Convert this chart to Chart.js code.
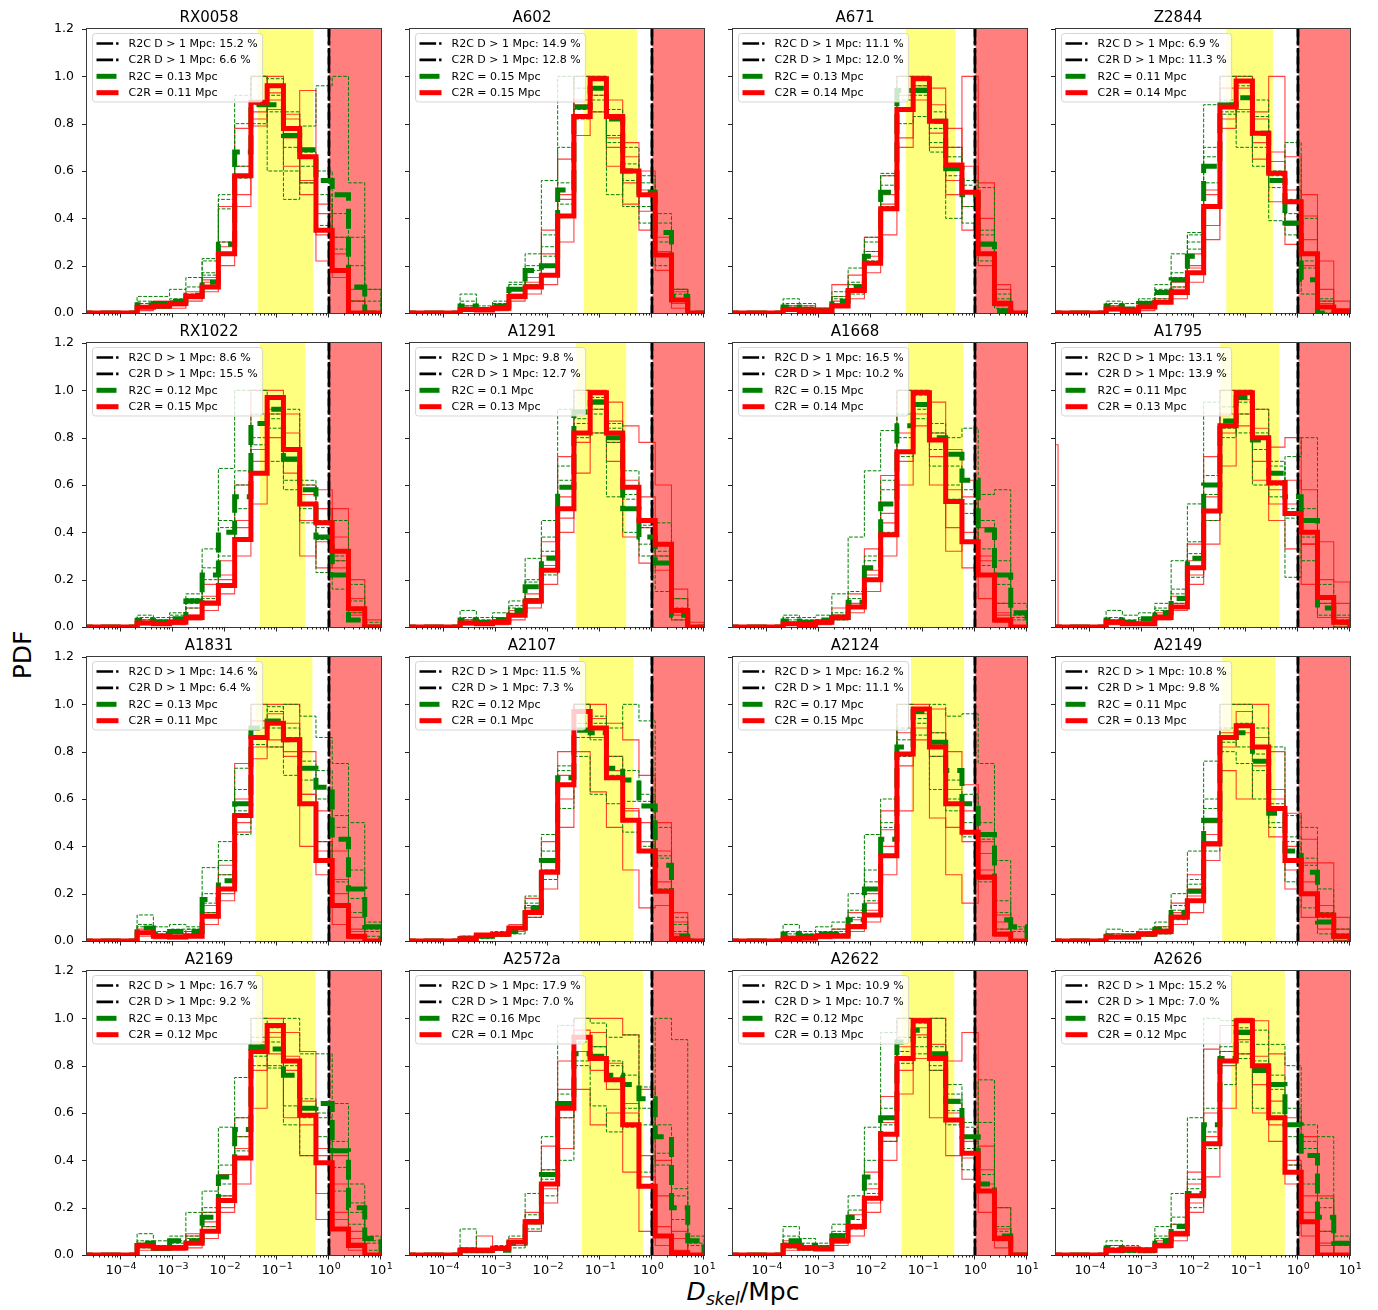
<!DOCTYPE html>
<html><head><meta charset="utf-8">
<script src="https://cdn.jsdelivr.net/npm/chart.js@4.4.1/dist/chart.umd.min.js"></script>
<style>
html,body{margin:0;padding:0;background:#fff;}
body{width:1378px;height:1310px;position:relative;overflow:hidden;font-family:"DejaVu Sans",sans-serif;}
canvas{position:absolute;}
#ylab{position:absolute;left:22px;top:655px;transform:translate(-50%,-50%) rotate(-90deg);font-size:25px;white-space:nowrap;}
#xlab{position:absolute;left:743px;top:1293px;transform:translate(-50%,-50%);font-size:25px;white-space:nowrap;}
#xlab sub{font-size:17px;font-style:italic;vertical-align:-5px;}
</style></head><body>
<div id="ylab">PDF</div>
<div id="xlab"><i>D</i><sub>skel</sub>/Mpc</div>
<script>
// ---------------- data ----------------
const PANEL_NAMES = ['RX0058','A602','A671','Z2844','RX1022','A1291','A1668','A1795','A1831','A2107','A2124','A2149','A2169','A2572a','A2622','A2626'];
const R2C_FAR = [15.2,14.9,11.1,6.9,8.6,9.8,16.5,13.1,14.6,11.5,16.2,10.8,16.7,17.9,10.9,15.2];
const C2R_FAR = [6.6,12.8,12.0,11.3,15.5,12.7,10.2,13.9,6.4,7.3,11.1,9.8,9.2,7.0,10.7,7.0];
const R2C_MED = ['0.13','0.15','0.13','0.11','0.12','0.1','0.15','0.11','0.13','0.12','0.17','0.11','0.13','0.16','0.12','0.15'];
const C2R_MED = ['0.11','0.15','0.14','0.14','0.15','0.13','0.14','0.13','0.11','0.1','0.15','0.13','0.12','0.1','0.13','0.12'];
const YELLOW_LO = [0.043,0.049,0.047,0.042,0.047,0.035,0.052,0.032,0.039,0.040,0.059,0.035,0.039,0.045,0.039,0.052];
const YELLOW_HI = [0.50,0.52,0.42,0.33,0.35,0.32,0.60,0.44,0.48,0.44,0.62,0.37,0.55,0.67,0.40,0.56];
const RED_SPAN = [1.02, 10];
const FAR_LINE_X = 1;
// histogram bin edges, log10(D/Mpc)
const EDGE_EXP = [-3.6875,-3.375,-3.0625,-2.75,-2.4375,-2.125,-1.8125,-1.5,-1.1875,-0.875,-0.5625,-0.25,0.0625,0.375,0.6875,1.0];
const X_TICK_VALUES = [1e-4,1e-3,1e-2,1e-1,1,10];
const X_TICK_BASE = '10';
const X_TICK_EXP = ['\u22124','\u22123','\u22122','\u22121','0','1'];
const Y_TICK_VALUES = [0,0.2,0.4,0.6,0.8,1.0,1.2];
const Y_TICK_LABELS = ['0.0','0.2','0.4','0.6','0.8','1.0','1.2'];

// thick red: C2R
const C2R_MAIN = [
[.024,.03,.04,.07,.11,.25,.58,.89,.96,.78,.66,.35,.18,0,0],
[.015,.013,.02,.07,.11,.16,.41,.83,.99,.83,.60,.50,.245,.055,0],
[.015,.01,.01,.03,.095,.21,.44,.86,.99,.81,.625,.51,.25,.04,0],
[.017,.01,.025,.045,.087,.17,.45,.87,.98,.76,.59,.47,.25,.025,.01],
[.017,.014,.02,.04,.10,.175,.37,.65,.97,.75,.52,.44,.32,.077,0],
[.017,.014,.02,.05,.11,.24,.50,.82,.99,.82,.59,.45,.35,.07,0],
[.014,.011,.02,.04,.085,.2,.39,.74,.99,.79,.53,.36,.22,.03,0],
[.02,.014,.014,.04,.085,.25,.49,.85,.99,.80,.61,.48,.40,.125,.02],
[.035,.02,.017,.02,.105,.22,.53,.86,.92,.85,.58,.34,.15,.02,0],
[.01,.025,.028,.055,.12,.29,.66,.97,.90,.69,.51,.38,.21,.01,0],
[.01,.012,.02,.02,.06,.11,.36,.79,.98,.82,.58,.46,.27,.03,0],
[.017,.017,.03,.04,.10,.17,.41,.86,.91,.82,.56,.34,.20,.11,.02],
[.04,.03,.03,.05,.10,.23,.41,.86,.97,.82,.59,.39,.11,.04,0],
[.02,.02,.028,.055,.14,.30,.62,.92,.83,.74,.55,.29,.08,.01,0],
[.04,.03,.025,.06,.12,.24,.51,.83,.99,.83,.57,.43,.27,.07,0],
[.02,.025,.02,.04,.09,.25,.47,.82,.99,.80,.58,.35,.14,0,0]];
// thick green dashed: R2C
const R2C_MAIN = [
[.035,.04,.05,.075,.13,.29,.68,.88,.88,.75,.69,.56,.50,.11,0],
[.03,.015,.03,.10,.18,.20,.52,.87,.95,.82,.60,.51,.34,.07,0],
[.025,.015,.01,.05,.11,.24,.51,.94,.94,.81,.61,.50,.29,.01,0],
[.03,.017,.04,.087,.14,.24,.62,.88,.91,.76,.56,.38,.14,0,0],
[.028,.02,.035,.11,.22,.40,.55,.86,.92,.71,.58,.38,.22,.03,0],
[.03,.02,.03,.07,.17,.29,.59,.91,.95,.80,.50,.38,.27,.05,0],
[.025,.02,.03,.04,.105,.25,.52,.85,.94,.80,.73,.62,.41,.22,.06],
[.03,.02,.035,.06,.12,.29,.60,.87,.97,.79,.65,.55,.45,.08,.02],
[.055,.03,.04,.04,.175,.255,.58,.90,.93,.85,.73,.65,.43,.22,.06],
[.01,.02,.03,.04,.14,.34,.69,.89,.88,.73,.68,.57,.32,.02,0],
[.03,.02,.03,.03,.09,.22,.43,.82,.97,.84,.72,.58,.45,.09,.06],
[.02,.02,.03,.05,.12,.21,.51,.86,.88,.76,.54,.38,.29,.08,.02],
[.05,.03,.06,.06,.16,.33,.53,.88,.87,.76,.62,.64,.44,.20,.07],
[.02,.02,.02,.05,.14,.34,.64,.85,.84,.76,.72,.66,.50,.20,.06],
[.06,.04,.03,.08,.16,.33,.58,.90,.95,.85,.65,.50,.30,.08,0],
[.03,.02,.02,.06,.12,.26,.55,.83,.94,.78,.72,.55,.42,.16,.05]];
// thin red runs (C2R)
const C2R_RUN_A = [
[.02,.05,.05,.09,.13,.45,.78,1.0,.93,.62,.55,.22,.18,.10,0],
[.02,.01,.03,.1,.15,.35,.65,1.0,.95,.7,.55,.52,.32,.1,0],
[.02,.03,.01,.12,.16,.32,.58,1.0,.95,.7,.56,1.0,.4,.1,0],
[.02,.01,.03,.06,.13,.25,.52,1.0,.98,.85,1.0,.66,.5,.22,0],
[.02,.03,.04,.08,.18,.28,.6,1.0,1.0,.9,.6,.58,.38,.12,0],
[.02,.02,.03,.07,.14,.36,.72,1.0,1.0,.87,.85,.78,.6,.16,0],
[.02,.02,.03,.08,.14,.33,.64,1.0,1.0,.82,.75,.55,.42,.1,0],
[.03,.02,.03,.06,.13,.35,.72,1.0,1.0,.92,.76,.8,.58,.36,.1],
[.05,.03,.02,.04,.15,.32,.75,1.0,1.0,1.0,.8,.55,.38,.1,0],
[.02,.03,.03,.07,.18,.42,.8,1.0,1.0,.92,.85,.7,.5,.08,0],
[.02,.02,.03,.05,.12,.2,.55,1.0,1.0,.98,.8,.66,.42,.08,0],
[.03,.03,.04,.06,.16,.28,.5,1.0,1.0,1.0,.8,.54,.43,.33,.1],
[.05,.04,.04,.09,.18,.34,.58,1.0,1.0,.94,.86,.42,.42,.07,0],
[.03,.08,.03,.07,.18,.46,.82,1.0,1.0,1.0,.93,.7,.4,.07,0],
[.06,.04,.04,.09,.17,.35,.67,1.0,1.0,1.0,.82,.94,.46,.2,0],
[.04,.03,.03,.06,.13,.35,.87,.97,1.0,.99,.85,.58,.5,.25,0]];
const C2R_RUN_B = [
[.03,.02,.03,.05,.09,.2,.45,.85,1.0,.82,.5,.33,.25,.05,0],
[.01,.02,.01,.05,.08,.12,.3,.75,1.0,.9,.72,.43,.18,.02,0],
[.01,.01,.02,.05,.06,.17,.33,.74,1.0,.88,.78,.35,.2,.05,0],
[.01,.02,.02,.04,.06,.13,.37,.78,1.0,.65,.47,.37,.31,.04,0],
[.01,.01,.01,.03,.07,.14,.3,.52,.9,.65,.3,.36,.5,.2,.03],
[.01,.01,.01,.03,.08,.18,.4,.65,.92,.7,.5,.27,.24,.03,0],
[.01,.01,.01,.03,.06,.15,.3,.6,.85,.6,.42,.25,.12,.02,0],
[.01,.01,.01,.03,.07,.18,.35,.68,.9,.62,.45,.33,.18,.04,0],
[.02,.01,.01,.02,.07,.17,.46,.77,.85,.78,.4,.28,.07,.01,0],
[.01,.02,.02,.04,.1,.22,.48,.8,.63,.48,.3,.14,.15,.02,0],
[.01,.01,.01,.02,.04,.08,.28,.55,.85,.52,.28,.16,.26,.02,0],
[.01,.01,.02,.03,.07,.12,.34,.72,.6,.74,.44,.22,.1,.05,0],
[.02,.02,.02,.03,.07,.18,.3,.62,.85,.58,.42,.15,.15,.02,0],
[.01,.01,.02,.04,.1,.22,.45,.7,.55,.6,.35,.1,.04,.01,0],
[.02,.02,.02,.04,.08,.18,.4,.68,.83,.58,.42,.32,.18,.03,0],
[.01,.02,.01,.03,.06,.18,.33,.62,.85,.6,.48,.3,.08,.05,0]];
const C2R_RUN_C = [
[.01,.03,.02,.06,.15,.28,.62,.79,.9,.74,.94,.46,.32,0,0],
[.03,.02,.02,.06,.13,.2,.48,.9,.92,.62,.46,.6,.26,.09,0],
[.03,.02,.01,.07,.12,.26,.46,.7,.9,.95,.5,.62,.55,.12,0],
[.03,.02,.01,.05,.11,.2,.31,.95,.86,.82,.68,.29,.41,.1,.05],
[.03,.02,.03,.05,.13,.2,.45,.75,.8,.82,.45,.25,.28,.05,0],
[.03,.02,.04,.05,.1,.3,.55,.9,.82,.95,.38,.55,.35,.12,.02],
[.02,.01,.02,.05,.1,.24,.48,.82,.9,.95,.32,.62,.3,.06,0],
[.02,.02,.02,.05,.1,.22,.55,.9,.85,.7,.52,.62,.35,.2,.19],
[.03,.02,.03,.04,.12,.28,.6,.93,.82,.92,.62,.42,.26,.05,0],
[.02,.02,.03,.06,.14,.34,.6,1.0,.94,.78,.56,.5,.38,.12,0],
[.02,.02,.02,.03,.09,.16,.47,.88,.9,.88,.48,.55,.37,.11,0],
[.02,.02,.03,.05,.12,.22,.42,.88,.97,.76,.64,.4,.33,.15,.05],
[.03,.02,.03,.08,.14,.25,.5,.78,.92,.84,.65,.26,.3,.1,0],
[.02,.02,.03,.06,.15,.36,.7,.86,.94,.81,.64,.42,.25,.1,0],
[.05,.03,.03,.07,.13,.28,.56,.78,.93,.89,.64,.41,.36,.11,0],
[.02,.03,.02,.05,.1,.3,.6,.8,.91,.72,.65,.4,.25,.1,0]];
const C2R_RUN_D = [
[.02,.02,.04,.08,.14,.3,.5,.82,.86,.84,.56,.42,.15,.05,0],
[.02,.02,.02,.08,.12,.25,.5,.88,.85,.74,.66,.35,.25,.04,0],
[.01,.02,.02,.04,.1,.24,.5,.92,.96,.76,.7,.45,.3,.03,0],
[.02,.01,.03,.05,.1,.19,.5,.82,.95,.72,.64,.52,.2,.05,0],
[.02,.02,.02,.05,.11,.22,.42,.7,.92,.7,.56,.5,.25,.06,0],
[.02,.01,.02,.05,.12,.26,.46,.78,.96,.78,.62,.42,.3,.05,0],
[.01,.02,.02,.05,.09,.22,.44,.7,.94,.72,.58,.4,.28,.05,0],
[.02,.02,.02,.05,.09,.28,.45,.82,.96,.84,.58,.52,.35,.1,.04],
[.04,.02,.02,.03,.1,.2,.5,.82,.96,.8,.62,.38,.2,.04,0],
[.01,.03,.03,.05,.13,.3,.7,.9,.86,.72,.55,.42,.25,.03,0],
[.01,.01,.02,.02,.07,.13,.4,.74,.96,.78,.64,.42,.3,.05,0],
[.02,.02,.03,.04,.11,.19,.45,.82,.88,.86,.6,.3,.25,.08,0],
[.04,.03,.03,.05,.12,.2,.45,.9,.94,.78,.55,.45,.18,.05,0],
[.02,.02,.03,.05,.13,.28,.58,.95,.78,.7,.6,.33,.12,.02,0],
[.03,.03,.03,.05,.11,.22,.48,.88,.96,.78,.6,.48,.3,.08,0],
[.02,.02,.02,.04,.08,.22,.5,.86,.95,.84,.55,.38,.18,.04,0]];
// thin green dotted runs (R2C)
const R2C_RUN_A = [
[.07,.07,.1,.15,.23,.48,.80,1.0,.99,.85,.79,.96,1.0,.55,.1],
[.08,.02,.04,.13,.25,.56,1.0,.95,.9,.72,.7,.55,.42,.08,0],
[.06,.04,.02,.07,.19,.3,.59,1.0,1.0,.68,.4,.54,.53,.08,0],
[.05,.04,.06,.12,.25,.34,.88,1.0,1.0,.83,.58,.72,.4,.06,0],
[.05,.04,.06,.14,.33,.67,1.0,1.0,.84,.62,.6,.37,.45,.11,0],
[.07,.04,.06,.11,.29,.45,.92,1.0,.97,.86,.66,.43,.44,.12,0],
[.05,.04,.05,.14,.38,.66,.83,1.0,1.0,.82,.8,.84,.56,.58,.1],
[.07,.05,.06,.1,.28,.52,.95,1.0,1.0,.92,.55,.72,.8,.18,.03],
[.11,.06,.07,.06,.31,.42,.73,1.0,.97,1.0,.95,.86,.75,.5,.08],
[.02,.03,.04,.06,.19,.45,.74,1.0,.95,.9,1.0,.93,.48,.07,0],
[.07,.04,.06,.08,.2,.45,.6,1.0,.98,1.0,.95,.96,.75,.34,.06],
[.05,.04,.05,.08,.2,.38,.76,1.0,1.0,.9,.82,.53,.48,.22,.05],
[.09,.06,.08,.18,.27,.54,.75,1.0,.96,1.0,.85,.85,.64,.3,.06],
[.11,.02,.04,.08,.26,.5,.97,1.0,.98,.92,.93,.55,1.0,.91,.05],
[.12,.07,.05,.13,.25,.54,.94,1.0,.98,1.0,.72,.56,.74,.2,0],
[.06,.04,.03,.12,.26,.58,1.0,.99,.96,.95,.89,.8,.55,.5,.05]];
const R2C_RUN_B = [
[.03,.04,.05,.11,.22,.5,.92,1.0,.6,.6,.55,.37,.32,.32,.1],
[.02,.01,.02,.07,.12,.33,.7,1.0,.85,.5,.63,.38,.2,.05,0],
[.03,.03,.02,.03,.08,.22,.45,.8,.83,.72,.58,.45,.22,.02,0],
[.02,.01,.03,.06,.11,.33,.55,.9,.7,.9,.39,.48,.08,0,0],
[.02,.01,.02,.08,.12,.3,.5,.77,.9,.92,.44,.23,.16,.03,0],
[.02,.01,.02,.05,.12,.22,.5,.8,.9,.55,.4,.35,.15,.03,0],
[.02,.01,.02,.03,.08,.2,.4,.72,.88,.68,.54,.48,.33,.1,.03],
[.02,.01,.02,.04,.1,.21,.45,.8,.9,.6,.6,.21,.38,.05,0],
[.04,.02,.03,.03,.12,.22,.45,.83,.82,.7,.58,.42,.25,.12,.02],
[.01,.01,.02,.03,.1,.26,.56,.78,.62,.58,.46,.4,.22,.02,0],
[.02,.01,.02,.03,.07,.17,.36,.85,.87,.64,.55,.5,.25,.05,0],
[.01,.01,.02,.03,.09,.17,.38,.8,.75,.6,.5,.25,.14,.03,0],
[.03,.02,.04,.05,.12,.25,.44,.8,.8,.55,.42,.5,.27,.13,.02],
[.01,.01,.02,.03,.11,.25,.4,.8,.63,.52,.54,.35,.43,.28,0],
[.03,.02,.02,.06,.11,.26,.48,.81,.85,.78,.55,.36,.27,.06,0],
[.02,.01,.01,.04,.09,.2,.45,.72,.85,.62,.6,.38,.3,.1,0]];
const R2C_RUN_C = [
[.05,.02,.06,.08,.17,.44,.57,.88,.85,.48,.68,.6,.27,.05,0],
[.05,.03,.05,.1,.18,.28,.55,.86,1.0,.75,.45,.45,.3,.1,0],
[.04,.02,.01,.09,.13,.32,.58,.9,.92,.85,.7,.38,.33,.06,0],
[.04,.02,.04,.08,.17,.3,.66,.84,.85,.62,.53,.33,.19,.05,0],
[.04,.03,.05,.1,.2,.42,.66,.8,.7,.58,.5,.42,.3,.18,.02],
[.04,.03,.04,.09,.2,.38,.68,.88,.82,.78,.56,.3,.32,.08,0],
[.04,.03,.03,.06,.15,.3,.62,.8,.98,.75,.6,.52,.26,.28,.05],
[.04,.03,.04,.08,.16,.36,.64,.93,.82,.75,.68,.46,.28,.12,.05],
[.07,.04,.05,.05,.2,.34,.64,.9,.99,.86,.68,.72,.53,.3,.05],
[.02,.02,.03,.05,.16,.38,.66,.92,.85,.78,.59,.59,.35,.1,0],
[.04,.03,.04,.05,.13,.3,.5,.9,.92,.78,.6,.44,.43,.17,.05],
[.03,.02,.03,.06,.15,.26,.6,.9,.82,.79,.48,.44,.35,.12,.03],
[.06,.04,.05,.08,.2,.38,.58,.92,.79,.63,.58,.58,.37,.22,.08],
[.03,.02,.03,.05,.17,.36,.58,.9,.88,.82,.62,.71,.38,.15,.08],
[.08,.05,.04,.1,.19,.4,.62,.92,.88,.8,.61,.45,.56,.12,0],
[.04,.02,.02,.08,.16,.32,.62,.88,.83,.89,.7,.62,.48,.24,.08]];
const R2C_RUN_D = [
[.04,.03,.05,.07,.16,.3,.62,.8,.92,.7,.62,.5,.42,.2,.05],
[.03,.02,.03,.12,.2,.24,.46,.82,.92,.86,.56,.58,.38,.1,0],
[.02,.02,.02,.06,.12,.26,.54,.86,.96,.78,.66,.56,.35,.04,0],
[.03,.02,.05,.1,.15,.27,.7,.85,.96,.7,.6,.42,.22,.03,0],
[.03,.02,.04,.12,.25,.45,.6,.9,.88,.75,.62,.45,.28,.06,0],
[.03,.02,.03,.08,.19,.32,.62,.86,.92,.84,.54,.42,.3,.07,0],
[.03,.02,.03,.05,.12,.28,.58,.9,.92,.86,.68,.58,.45,.18,.04],
[.03,.02,.04,.07,.14,.31,.56,.84,.95,.82,.7,.5,.5,.1,.02],
[.06,.03,.04,.05,.16,.28,.55,.86,.9,.9,.76,.6,.48,.18,.04],
[.01,.02,.03,.05,.15,.3,.72,.86,.92,.7,.72,.62,.36,.04,0],
[.03,.02,.03,.04,.1,.25,.48,.78,.94,.88,.68,.62,.5,.12,.04],
[.02,.02,.03,.05,.13,.24,.56,.84,.92,.72,.58,.42,.32,.1,.02],
[.05,.03,.06,.07,.18,.3,.5,.84,.9,.8,.66,.6,.48,.18,.05],
[.02,.02,.02,.06,.15,.32,.68,.82,.88,.8,.76,.62,.55,.25,.04],
[.05,.04,.03,.09,.15,.3,.55,.86,.92,.88,.68,.54,.34,.1,0],
[.03,.02,.02,.07,.13,.28,.52,.86,.9,.82,.76,.5,.45,.2,.04]];
// A1795: one thin C2R run with a bin left of the axis range
const A1795_LEFT_BIN = {panel: 7, lo: 1e-6, hi: 2.45e-5, value: 0.77};

// ---------------- layout ----------------
const FRAME_LEFT = [87, 410, 733, 1056];
const FRAME_TOP = [29, 343, 657, 971];
const FRAME_W = 294, FRAME_H = 284;
const PAD_L = 50, PAD_T = 25, PAD_R = 15, PAD_B = 35;
const X_MIN = Math.pow(10, -4.65), X_MAX = 10;
const LINE_START = 1e-6;
const FONT = '"DejaVu Sans"';
const EDGES = EDGE_EXP.map(e => Math.pow(10, e));

function stepPoints(vals) {
  const pts = [{x: LINE_START, y: 0}];
  vals.forEach((v, k) => pts.push({x: EDGES[k], y: v}));
  pts.push({x: EDGES[vals.length], y: 0});
  return pts;
}
function lineDs(data, style) {
  return Object.assign({data, showLine: true, stepped: true, pointRadius: 0, pointHoverRadius: 0,
    fill: false, clip: 0, borderCapStyle: 'butt', borderJoinStyle: 'miter', tension: 0}, style);
}

function decorPlugin(i, showX) {
  return {
    id: 'decor',
    beforeDatasetsDraw(chart) {
      const {ctx, chartArea: a, scales: {x}} = chart;
      ctx.save();
      const y0 = x.getPixelForValue(YELLOW_LO[i]), y1 = x.getPixelForValue(YELLOW_HI[i]);
      ctx.fillStyle = 'rgba(255,255,0,0.5)';
      ctx.fillRect(y0, a.top, y1 - y0, a.bottom - a.top);
      const r0 = x.getPixelForValue(RED_SPAN[0]), r1 = x.getPixelForValue(RED_SPAN[1]);
      ctx.fillStyle = 'rgba(255,0,0,0.5)';
      ctx.fillRect(r0, a.top, r1 - r0, a.bottom - a.top);
      ctx.restore();
    },
    afterDatasetsDraw(chart) {
      const {ctx, chartArea: a, scales: {x, y}} = chart;
      ctx.save();
      // frame
      ctx.strokeStyle = '#3a3a3a'; ctx.lineWidth = 1; ctx.setLineDash([]);
      ctx.strokeRect(a.left - 0.5, a.top - 0.5, a.right - a.left + 1, a.bottom - a.top + 1);
      // ticks
      ctx.strokeStyle = '#222'; ctx.beginPath();
      Y_TICK_VALUES.forEach(v => { const p = Math.round(y.getPixelForValue(v)) + 0.5; ctx.moveTo(a.left - 1, p); ctx.lineTo(a.left - 5, p); });
      X_TICK_VALUES.forEach(v => { const p = Math.round(x.getPixelForValue(v)) - 0.5; ctx.moveTo(p, a.bottom); ctx.lineTo(p, a.bottom + 4.5); });
      for (let n = -5; n <= 0; n++) for (let k = 2; k <= 9; k++) {
        const v = k * Math.pow(10, n);
        if (v <= X_MIN || v >= X_MAX) continue;
        const p = Math.round(x.getPixelForValue(v)) - 0.5;
        ctx.moveTo(p, a.bottom); ctx.lineTo(p, a.bottom + 2.5);
      }
      ctx.stroke();
      // x tick labels as 10^n (bottom row only)
      if (showX) {
        ctx.fillStyle = '#000'; ctx.textBaseline = 'alphabetic'; ctx.textAlign = 'left';
        X_TICK_VALUES.forEach((v, k) => {
          const p = x.getPixelForValue(v);
          ctx.font = '13px ' + FONT;
          const w1 = ctx.measureText(X_TICK_BASE).width;
          ctx.font = '9.5px ' + FONT;
          const w2 = ctx.measureText(X_TICK_EXP[k]).width;
          const s = p - (w1 + w2) / 2;
          ctx.font = '13px ' + FONT;
          ctx.fillText(X_TICK_BASE, s, a.bottom + 19);
          ctx.font = '9.5px ' + FONT;
          ctx.fillText(X_TICK_EXP[k], s + w1 + 0.5, a.bottom + 13.5);
        });
      }
      // legend
      const fs = 11;
      ctx.font = fs + 'px ' + FONT;
      const labels = [
        'R2C D > 1 Mpc: ' + R2C_FAR[i].toFixed(1) + ' %',
        'C2R D > 1 Mpc: ' + C2R_FAR[i].toFixed(1) + ' %',
        'R2C = ' + R2C_MED[i] + ' Mpc',
        'C2R = ' + C2R_MED[i] + ' Mpc'];
      const tw = Math.max(...labels.map(t => ctx.measureText(t).width));
      const bx = a.left + 5.5, by = a.top + 4.5, bw = 36 + tw + 5, bh = 68.5;
      ctx.fillStyle = 'rgba(255,255,255,0.8)';
      ctx.strokeStyle = 'rgba(204,204,204,0.8)';
      ctx.lineWidth = 1;
      ctx.beginPath(); ctx.roundRect(bx, by, bw, bh, 3); ctx.fill(); ctx.stroke();
      const handles = [
        {c: '#000', w: 2.6, d: [16.6, 3, 2.6, 3]},
        {c: '#000', w: 2.6, d: [16.6, 3, 2.6, 3]},
        {c: '#008000', w: 5, d: [20, 8]},
        {c: '#ff0000', w: 5, d: []}];
      labels.forEach((t, k) => {
        const cy = by + 10 + k * 16.4;
        const h = handles[k];
        ctx.beginPath(); ctx.setLineDash(h.d); ctx.lineCap = 'butt';
        ctx.strokeStyle = h.c; ctx.lineWidth = h.w;
        ctx.moveTo(bx + 4, cy); ctx.lineTo(bx + 26, cy); ctx.stroke();
        ctx.setLineDash([]);
        ctx.fillStyle = '#000'; ctx.textBaseline = 'middle'; ctx.textAlign = 'left';
        ctx.font = fs + 'px ' + FONT;
        ctx.fillText(t, bx + 36, cy + 0.5);
      });
      ctx.restore();
    }
  };
}

function makeChart(i) {
  const row = Math.floor(i / 4), col = i % 4;
  const cv = document.createElement('canvas');
  const W = PAD_L + FRAME_W + PAD_R, H = PAD_T + FRAME_H + PAD_B;
  cv.width = W; cv.height = H;
  cv.style.width = W + 'px'; cv.style.height = H + 'px';
  cv.style.left = (FRAME_LEFT[col] - PAD_L) + 'px';
  cv.style.top = (FRAME_TOP[row] - PAD_T) + 'px';
  document.body.appendChild(cv);

  const thinRed = {borderColor: 'rgba(255,0,0,0.75)', borderWidth: 1.1, order: 4};
  const thinGreen = {borderColor: '#008000', borderWidth: 1, borderDash: [3.7, 1.6], order: 3};
  const dashDot = [16.6, 4.2, 2.6, 4.2];
  const datasets = [
    lineDs(stepPoints(C2R_MAIN[i]), {borderColor: '#ff0000', borderWidth: 5, order: 0}),
    lineDs(stepPoints(R2C_MAIN[i]), {borderColor: '#008000', borderWidth: 5, borderDash: [20, 8], order: 1}),
    lineDs([{x: FAR_LINE_X, y: 0}, {x: FAR_LINE_X, y: 1.2}], {stepped: false, borderColor: '#000', borderWidth: 2.6, borderDash: dashDot, order: 2}),
    lineDs([{x: FAR_LINE_X, y: 1.2}, {x: FAR_LINE_X, y: 0}], {stepped: false, borderColor: '#000', borderWidth: 2.6, borderDash: dashDot, order: 2}),
    lineDs(stepPoints(C2R_RUN_A[i]), thinRed),
    lineDs(stepPoints(C2R_RUN_B[i]), thinRed),
    lineDs(stepPoints(C2R_RUN_C[i]), thinRed),
    lineDs(stepPoints(C2R_RUN_D[i]), thinRed),
    lineDs(stepPoints(R2C_RUN_A[i]), thinGreen),
    lineDs(stepPoints(R2C_RUN_B[i]), thinGreen),
    lineDs(stepPoints(R2C_RUN_C[i]), thinGreen),
    lineDs(stepPoints(R2C_RUN_D[i]), thinGreen)
  ];
  if (A1795_LEFT_BIN.panel === i) {
    datasets.push(lineDs([{x: A1795_LEFT_BIN.lo, y: A1795_LEFT_BIN.value}, {x: A1795_LEFT_BIN.hi, y: 0}], thinRed));
  }

  new Chart(cv, {
    type: 'scatter',
    data: {datasets},
    plugins: [decorPlugin(i, row === 3)],
    options: {
      responsive: false, animation: false, devicePixelRatio: 1, events: [],
      layout: {padding: {top: 0, right: PAD_R, bottom: 0, left: 0}},
      plugins: {
        legend: {display: false}, tooltip: {enabled: false},
        title: {display: true, text: PANEL_NAMES[i], color: '#000',
          font: {family: FONT, size: 15, weight: 'normal', lineHeight: 1.2},
          padding: {top: 5, bottom: 2}}
      },
      scales: {
        x: {
          type: 'logarithmic', min: X_MIN, max: X_MAX,
          afterBuildTicks: s => { s.ticks = X_TICK_VALUES.map(v => ({value: v, major: true})); },
          afterFit: s => { s.height = PAD_B; s.paddingLeft = 0; s.paddingRight = 0; },
          grid: {display: false, drawTicks: false}, border: {display: false},
          ticks: {display: false}
        },
        y: {
          min: 0, max: 1.2,
          afterBuildTicks: s => { s.ticks = Y_TICK_VALUES.map(v => ({value: v})); },
          afterFit: s => { s.width = PAD_L; s.paddingTop = 0; s.paddingBottom = 0; },
          grid: {display: false, drawTicks: false}, border: {display: false},
          ticks: {display: col === 0, padding: 13, color: '#000', font: {family: FONT, size: 12.5},
            callback: (v, k) => Y_TICK_LABELS[k]}
        }
      }
    }
  });
}
for (let i = 0; i < 16; i++) makeChart(i);
</script>
</body></html>
